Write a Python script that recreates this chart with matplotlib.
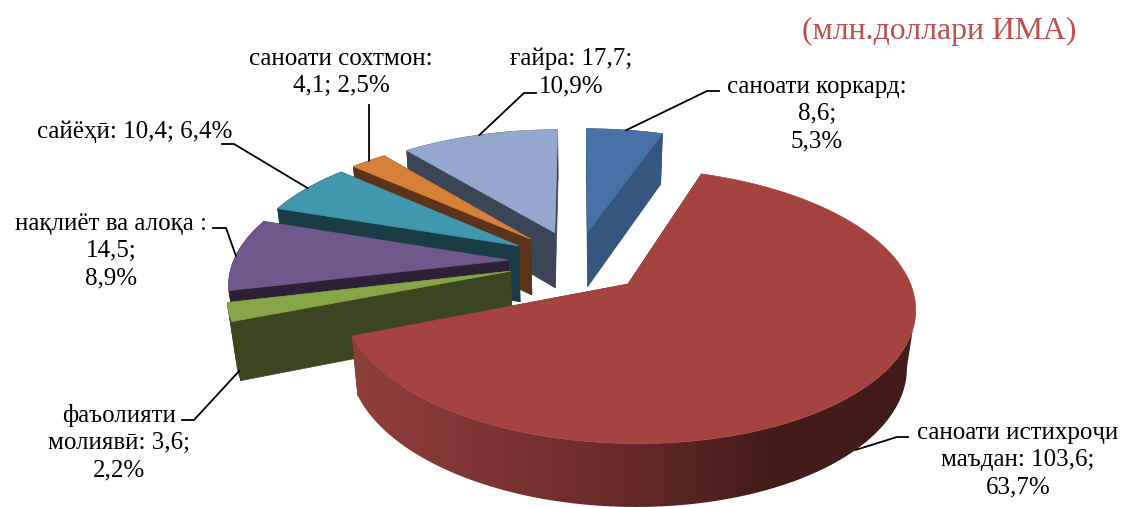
import numpy as np
import matplotlib
matplotlib.use("Agg")
import matplotlib.pyplot as plt
from matplotlib.colors import LinearSegmentedColormap
from matplotlib.patches import Polygon

plt.rcParams['font.family'] = ['Liberation Serif', 'DejaVu Serif']

# slices clockwise from 12 o'clock
values = [8.6, 103.6, 3.6, 14.5, 10.4, 4.1, 17.7]
label_lines = [
    ["саноати коркард:", "8,6;", "5,3%"],
    ["саноати истихроҷи", "маъдан: 103,6;", "63,7%"],
    ["фаъолияти", "молиявӣ: 3,6;", "2,2%"],
    ["нақлиёт ва алоқа :", "14,5;", "8,9%"],
    ["сайёҳӣ: 10,4; 6,4%"],
    ["саноати сохтмон:", "4,1; 2,5%"],
    ["ғайра: 17,7;", "10,9%"],
]

top_colors = ["#4672a6", "#a5433f", "#88a548", "#70578c", "#4197ae", "#d58139", "#93a7cf"]
side_colors = ["#34577f", "#6a2a28", "#3b4620", "#2d2138", "#1a3c47", "#5a3318", "#3c4558"]
draw_order = [6, 0, 5, 4, 3, 2, 1]

# projection of the exploded pie
X0, Y0 = 577, 261.5
A, D, H = 275, 127, 58
P, R = 0.155, 0.025
EXPLODE = 0.25


def project(u, v, depth=0.0):
    w = 1 + P * v + R * depth
    x = X0 + A * u / w
    y = Y0 - (D * v - H * depth) / w
    return x, y


def slice_point(mid, ang, radius=1.0, depth=0.0):
    u = EXPLODE * np.sin(mid) + radius * np.sin(ang)
    v = EXPLODE * np.cos(mid) + radius * np.cos(ang)
    return project(u, v, depth)


fig = plt.figure(figsize=(11.22, 5.07), dpi=100)
ax = fig.add_axes([0, 0, 1, 1])
ax.axis("off")

edges = np.concatenate([[0], np.cumsum(values)]) / np.sum(values) * 2 * np.pi
red_grad = LinearSegmentedColormap.from_list(
    "red_side", ["#8f3f3a", "#7c3431", "#652928", "#431b18", "#431b18"])

for pos, i in enumerate(draw_order):
    a0, a1 = edges[i], edges[i + 1]
    mid = (a0 + a1) / 2
    angs = np.linspace(a0, a1, 300)
    z = 3 + pos * 3

    # radial walls
    for a in (a0, a1):
        wall = [slice_point(mid, a, 0), slice_point(mid, a, 1),
                slice_point(mid, a, 1, 1), slice_point(mid, a, 0, 1)]
        ax.fill(*zip(*wall), color=side_colors[i], lw=0.5, zorder=z)

    # outer wall, the big slice gets a left to right shade
    tx, ty = slice_point(mid, angs)
    bx, by = slice_point(mid, angs, 1, 1)
    if i == 1:
        # only the front part shows, start it at the right hand silhouette
        t0, b0 = np.argmax(tx), np.argmax(bx)
        wall_xy = np.c_[np.r_[tx[t0:], bx[b0:][::-1]], np.r_[ty[t0:], by[b0:][::-1]]]
        im = ax.imshow(np.linspace(0, 1, 256)[None, :], cmap=red_grad, aspect="auto",
                       extent=(wall_xy[:, 0].min(), wall_xy[:, 0].max(), wall_xy[:, 1].max(), wall_xy[:, 1].min()),
                       zorder=z + 1)
        clip = Polygon(wall_xy, closed=True, transform=ax.transData, fc="none", ec="none")
        ax.add_patch(clip)
        im.set_clip_path(clip)
    else:
        wall_xy = np.c_[np.r_[tx, bx[::-1]], np.r_[ty, by[::-1]]]
        ax.add_patch(Polygon(wall_xy, closed=True, fc=side_colors[i], ec=side_colors[i], lw=0.5, zorder=z + 1))

    # top
    cx, cy = slice_point(mid, a0, 0)
    ax.fill(np.r_[cx, tx], np.r_[cy, ty], color=top_colors[i], lw=0.5, zorder=z + 2)

ax.set_xlim(0, 1122)
ax.set_ylim(507, 0)

# labels: centre x and baseline of the first line
label_xy = [(817, 93), (1018, 439), (119, 422), (111, 230), (135, 138), (341, 65), (571, 65)]
line_gap = 27
for i, lines in enumerate(label_lines):
    for k, line in enumerate(lines):
        ax.text(label_xy[i][0], label_xy[i][1] + k * line_gap, line, ha="center", va="baseline",
                fontsize=18, color="black", zorder=40)

# leader lines: where the line starts on the slice, then elbow points
leader_frac = [0.52, 0.50, 0.05, 0.48, 0.52, 0.52, 0.50]
leader_depth = [0, 1, 0.85, 0, 0, 0, 0]
leader_pts = [
    [(707, 91), (719, 91)],
    [(897, 437), (908, 437)],
    [(194, 420), (182, 420)],
    [(226, 228), (213, 228)],
    [(234, 144), (222, 144)],
    [(369, 105)],
    [(524, 93), (536, 93)],
]
for i, pts in enumerate(leader_pts):
    a0, a1 = edges[i], edges[i + 1]
    mid = (a0 + a1) / 2
    ang = a0 + leader_frac[i] * (a1 - a0)
    sx, sy = slice_point(mid, ang, 1, leader_depth[i])
    xs = [sx] + [p[0] for p in pts]
    ys = [sy] + [p[1] for p in pts]
    ax.plot(xs, ys, color="black", lw=1.3, solid_joinstyle="miter", zorder=35)

ax.text(939, 39, "(млн.доллари ИМА)", ha="center", va="baseline", fontsize=22.9, color="#c0504d", zorder=40)

fig.savefig("out.png", dpi=100)
